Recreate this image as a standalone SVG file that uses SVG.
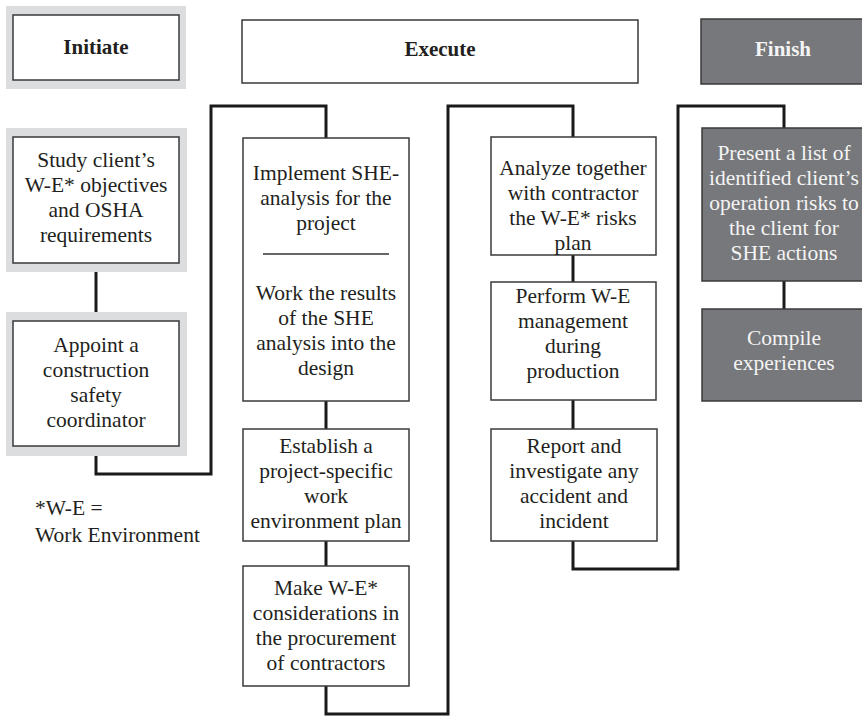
<svg xmlns="http://www.w3.org/2000/svg" width="862" height="717" viewBox="0 0 862 717">
<style>
  .bg{fill:#ffffff}
  .halo{fill:#dcdddf}
  .box{fill:#ffffff;stroke:#3a3a3a;stroke-width:1.5}
  .dark{fill:#77787b;stroke:#3a3a3a;stroke-width:1.5}
  .conn{fill:none;stroke:#1a1a1a;stroke-width:3;stroke-linejoin:miter}
  .div{stroke:#333;stroke-width:1.5}
  text{font-family:"Liberation Serif","Times New Roman",serif;font-size:21.5px;fill:#231f20;text-anchor:middle}
  .title{font-weight:bold;font-size:21px}
  .light{fill:#f4f4f4}
  .left{text-anchor:start}
</style>
<rect class="bg" x="0" y="0" width="862" height="717"/>

<g id="connectors">
  <line class="conn" x1="96" y1="272" x2="96" y2="312"/>
  <polyline class="conn" points="96,456 96,474 211,474 211,106 326,106 326,138"/>
  <line class="conn" x1="326" y1="401" x2="326" y2="429"/>
  <line class="conn" x1="326" y1="541" x2="326" y2="566"/>
  <polyline class="conn" points="326,686 326,714 448,714 448,106 573,106 573,137"/>
  <line class="conn" x1="573" y1="255" x2="573" y2="282"/>
  <line class="conn" x1="573" y1="400" x2="573" y2="429"/>
  <polyline class="conn" points="573,541 573,569 678,569 678,106 784,106 784,128"/>
  <line class="conn" x1="784" y1="281" x2="784" y2="309"/>
</g>

<g id="initiate">
  <rect class="halo" x="6" y="6" width="180" height="83"/>
  <rect class="box" x="13" y="15" width="166" height="65"/>
  <text class="title" x="96" y="54">Initiate</text>
</g>

<g id="execute">
  <rect class="box" x="242" y="20" width="396" height="63"/>
  <text class="title" x="440" y="56">Execute</text>
</g>

<g id="finish">
  <rect class="dark" x="701" y="19" width="170" height="65"/>
  <text class="title light" x="783" y="56">Finish</text>
</g>

<g id="study">
  <rect class="halo" x="6" y="128" width="181" height="144"/>
  <rect class="box" x="13" y="137" width="166" height="126"/>
  <text x="96" y="167">Study client’s</text>
  <text x="96" y="192">W-E* objectives</text>
  <text x="96" y="217">and OSHA</text>
  <text x="96" y="242">requirements</text>
</g>

<g id="appoint">
  <rect class="halo" x="6" y="312" width="181" height="144"/>
  <rect class="box" x="13" y="321" width="166" height="125"/>
  <text x="96" y="352">Appoint a</text>
  <text x="96" y="377">construction</text>
  <text x="96" y="402">safety</text>
  <text x="96" y="427">coordinator</text>
</g>

<g id="implement">
  <rect class="box" x="243" y="138" width="166" height="263"/>
  <text x="326" y="180">Implement SHE-</text>
  <text x="326" y="205">analysis for the</text>
  <text x="326" y="230">project</text>
  <line class="div" x1="263" y1="254" x2="389" y2="254"/>
  <text x="326" y="300">Work the results</text>
  <text x="326" y="325">of the SHE</text>
  <text x="326" y="350">analysis into the</text>
  <text x="326" y="375">design</text>
</g>

<g id="establish">
  <rect class="box" x="243" y="429" width="166" height="112"/>
  <text x="326" y="453">Establish a</text>
  <text x="326" y="478">project-specific</text>
  <text x="326" y="503">work</text>
  <text x="326" y="528">environment plan</text>
</g>

<g id="make">
  <rect class="box" x="243" y="566" width="166" height="120"/>
  <text x="326" y="595">Make W-E*</text>
  <text x="326" y="620">considerations in</text>
  <text x="326" y="645">the procurement</text>
  <text x="326" y="670">of contractors</text>
</g>

<g id="analyze">
  <rect class="box" x="491" y="137" width="165" height="118"/>
  <text x="573" y="175">Analyze together</text>
  <text x="573" y="200">with contractor</text>
  <text x="573" y="225">the W-E* risks</text>
  <text x="573" y="250">plan</text>
</g>

<g id="perform">
  <rect class="box" x="491" y="282" width="165" height="118"/>
  <text x="573" y="303">Perform W-E</text>
  <text x="573" y="328">management</text>
  <text x="573" y="353">during</text>
  <text x="573" y="378">production</text>
</g>

<g id="report">
  <rect class="box" x="491" y="429" width="166" height="112"/>
  <text x="574" y="453">Report and</text>
  <text x="574" y="478">investigate any</text>
  <text x="574" y="503">accident and</text>
  <text x="574" y="528">incident</text>
</g>

<g id="present">
  <rect class="dark" x="702" y="128" width="170" height="153"/>
  <text class="light" x="784" y="160">Present a list of</text>
  <text class="light" x="784" y="185">identified client’s</text>
  <text class="light" x="784" y="210">operation risks to</text>
  <text class="light" x="784" y="235">the client for</text>
  <text class="light" x="784" y="260">SHE actions</text>
</g>

<g id="compile">
  <rect class="dark" x="702" y="309" width="170" height="92"/>
  <text class="light" x="784" y="345">Compile</text>
  <text class="light" x="784" y="370">experiences</text>
</g>

<g id="footnote">
  <text class="left" x="35" y="515">*W-E =</text>
  <text class="left" x="35" y="542">Work Environment</text>
</g>
</svg>
